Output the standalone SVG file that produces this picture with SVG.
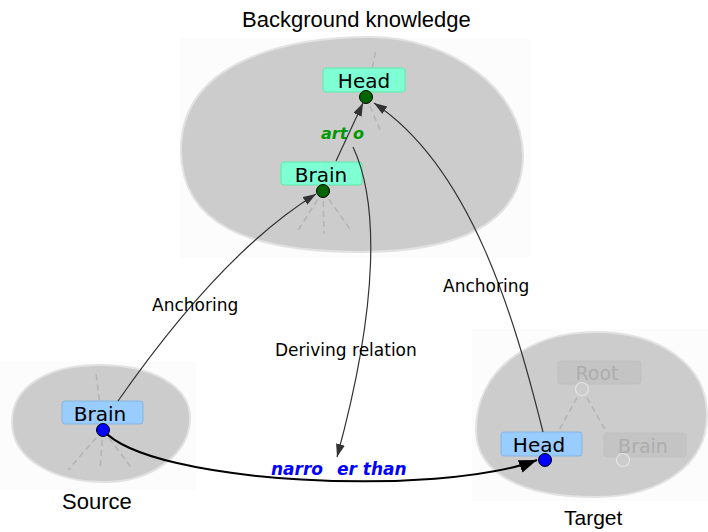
<svg xmlns="http://www.w3.org/2000/svg" width="708" height="532" viewBox="0 0 708 532">
  <style>
    .title { font-family: "Liberation Sans", Arial, sans-serif; font-size: 22px; fill: #000; }
    .blob { fill: #cccccc; stroke: #e2e2e2; stroke-width: 2; }
    .halo { fill: #fcfcfc; }
    .tree { stroke: #b4b4b4; stroke-width: 1.5; stroke-dasharray: 6 4; fill: none; }
    .lbl { font-family: "DejaVu Sans", "Lucida Grande", sans-serif; font-size: 20px; fill: #000; text-anchor: middle; }
    .faded { font-family: "DejaVu Sans", "Lucida Grande", sans-serif; font-size: 19px; fill: #adadad; text-anchor: middle; }
    .bk rect { fill: #7fffd4; stroke: #5fe8a8; stroke-width: 1; }
    .st rect { fill: #99ccff; stroke: #88b4dd; stroke-width: 1; }
    .ghost rect { fill: #c4c4c4; stroke: #c0c0c0; stroke-width: 1; }
    .gdot { fill: #006400; stroke: #000; stroke-width: 1; }
    .bdot { fill: #0000ff; stroke: #000; stroke-width: 1; }
    .odot { fill: #cccccc; stroke: #e4e4e4; stroke-width: 1.2; }
    .conn { fill: none; stroke: #333; stroke-width: 1.2; }
    .rel { fill: none; stroke: #000; stroke-width: 2; }
    .elbl { font-family: "DejaVu Sans", "Lucida Grande", sans-serif; font-size: 17px; fill: #000; }
    .rlbl { font-family: "DejaVu Sans", "Lucida Grande", sans-serif; font-weight: bold; font-style: italic; }
  </style>
  <defs>
    <marker id="arr" markerUnits="userSpaceOnUse" markerWidth="14" markerHeight="10" refX="13" refY="4.5" orient="auto">
      <path d="M0,0 L13,4.5 L0,9 z" fill="#333"/>
    </marker>
    <marker id="arrBig" markerUnits="userSpaceOnUse" markerWidth="19" markerHeight="14" refX="18" refY="6.5" orient="auto">
      <path d="M0,0 L18,6.5 L0,13 z" fill="#000"/>
    </marker>
  </defs>

  <!-- soft backdrops behind the three graphs -->
  <rect class="halo" x="180" y="38" width="350" height="220"/>
  <rect class="halo" x="0" y="362" width="196" height="128"/>
  <rect class="halo" x="472" y="329" width="236" height="172"/>

  <!-- background knowledge graph -->
  <g id="background">
    <path class="blob" d="M181,150 C181,60 290,37 370,37 C450,37 523,90 523,155 C523,225 455,252 360,252 C250,252 181,225 181,150 Z"/>
    <text class="title" x="242" y="27">Background knowledge</text>
    <path class="tree" d="M366,97 L376,50 M366,97 L381,132 M323,191 L297,232 M323,191 L324,234 M323,191 L352,232"/>
  </g>
  <g id="bk-head" class="bk">
    <rect x="323" y="68" width="82" height="24" rx="3"/>
    <text class="lbl" x="364" y="88">Head</text>
    <circle class="gdot" cx="366" cy="97" r="6.5"/>
  </g>
  <g id="bk-brain" class="bk">
    <rect x="281" y="162" width="81" height="23" rx="3"/>
    <text class="lbl" x="321" y="182">Brain</text>
    <circle class="gdot" cx="323" cy="191" r="6.5"/>
  </g>

  <!-- source graph -->
  <g id="source">
    <path class="blob" d="M12,422 C12,385 50,365 100,365 C150,365 190,385 190,418 C190,455 150,482 105,482 C55,482 12,460 12,422 Z"/>
    <text class="title" x="62" y="509">Source</text>
    <path class="tree" d="M103,430 L96,373 M103,430 L68,470 M103,430 L100,470 M103,430 L133,470"/>
  </g>
  <g id="src-brain" class="st">
    <rect x="62" y="401" width="81" height="23" rx="3"/>
    <text class="lbl" x="100" y="421">Brain</text>
  </g>

  <!-- target graph -->
  <g id="target">
    <path class="blob" d="M476,430 C476,370 530,332 595,332 C660,332 707,365 707,415 C707,465 660,497 595,497 C525,497 476,475 476,430 Z"/>
    <text class="title" x="564" y="525" style="font-size:21px">Target</text>
    <path class="tree" d="M582,389 L558,432 M582,389 L607,433"/>
  </g>
  <g id="tgt-root" class="ghost">
    <rect x="558" y="361" width="83" height="23" rx="3"/>
    <text class="faded" x="597" y="380">Root</text>
    <circle class="odot" cx="582" cy="389" r="6.5"/>
  </g>
  <g id="tgt-brain" class="ghost">
    <rect x="604" y="433" width="82" height="24" rx="3"/>
    <text class="faded" x="643" y="453">Brain</text>
    <circle class="odot" cx="623" cy="460" r="6.5"/>
  </g>
  <g id="tgt-head" class="st">
    <rect x="501" y="432" width="81" height="24" rx="3"/>
    <text class="lbl" x="539" y="452">Head</text>
  </g>

  <!-- connectors -->
  <g id="connectors">
    <path class="conn" d="M336,161 L363,103" marker-end="url(#arr)"/>
    <path class="conn" d="M118,401 Q222,252 316,194" marker-end="url(#arr)"/>
    <path class="conn" d="M543,432 C515,320 472,168 374,103" marker-end="url(#arr)"/>
    <path class="conn" d="M353,147 C378,200 380,300 337,457" marker-end="url(#arr)"/>
    <path class="rel" d="M103,430 C150,485 440,497 537,460" marker-end="url(#arrBig)"/>
    <text class="elbl" x="152" y="311">Anchoring</text>
    <text class="elbl" x="443" y="292">Anchoring</text>
    <text class="elbl" x="275" y="356">Deriving relation</text>
    <text class="rlbl" x="321" y="139" font-size="16" fill="#009900">art</text>
    <text class="rlbl" x="353" y="139" font-size="16" fill="#009900">o</text>
    <text class="rlbl" x="271" y="475" font-size="17" fill="#0000ff">narro</text>
    <text class="rlbl" x="337" y="475" font-size="17" fill="#0000ff">er than</text>
  </g>

  <!-- anchor points drawn above the connectors -->
  <circle id="src-brain-dot" class="bdot" cx="103" cy="430" r="6.5"/>
  <circle id="tgt-head-dot" class="bdot" cx="545" cy="460" r="6.5"/>
</svg>
